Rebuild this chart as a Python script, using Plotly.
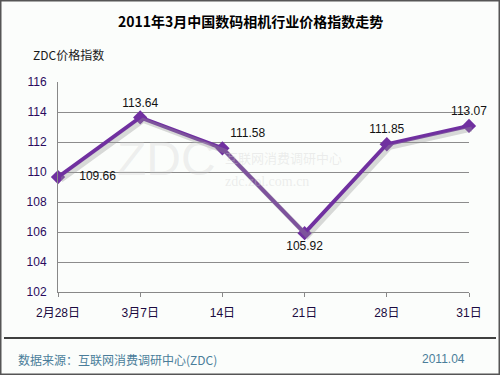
import plotly.graph_objects as go

categories = ["2月28日", "3月7日", "14日", "21日", "28日", "31日"]
values = [109.66, 113.64, 111.58, 105.92, 111.85, 113.07]
label_pos = ["middle right", "top center", "top right", "bottom center", "top center", "top center"]
label_text = ["    109.66", "113.64", "111.58", "105.92", "111.85", "113.07"]
y_ticks = [102, 104, 106, 108, 110, 112, 114, 116]

W, H = 500, 375
L, R, T, B = 58, 28, 82, 80
pw = W - L - R
ph = H - T - B
S = 3  # shadow offset px


def px(x):
    return (x - L) / pw


def py(y):
    return (H - y - B) / ph


fig = go.Figure()
# shadow
fig.add_trace(go.Scatter(
    x=list(range(len(values))), y=values, mode="lines",
    line=dict(color="rgba(150,150,150,0.35)", width=5),
    xaxis="x2", yaxis="y2", hoverinfo="skip", showlegend=False))
fig.add_trace(go.Scatter(
    x=list(range(len(values))), y=values, mode="lines+markers+text",
    line=dict(color="#7030a0", width=4),
    marker=dict(symbol="diamond", size=11, color="#7030a0"),
    text=label_text, textposition=label_pos,
    textfont=dict(family="Liberation Sans, Arial", size=12, color="#111111"),
    cliponaxis=False, showlegend=False))

fig.update_layout(
    width=W, height=H,
    margin=dict(l=L, r=R, t=T, b=B),
    paper_bgcolor="#fbfdfb", plot_bgcolor="rgba(0,0,0,0)",
    xaxis=dict(range=[0, 5], tickmode="array", tickvals=list(range(6)), ticktext=categories,
               showgrid=False, zeroline=False, showline=True, linecolor="#888888", linewidth=1,
               ticks="outside", ticklen=4, tickcolor="#888888", ticklabelstandoff=6,
               tickfont=dict(family="Liberation Sans, Noto Sans CJK SC", size=12, color="#1a0a40"),
               domain=[0, 1 - S / pw], anchor="y"),
    yaxis=dict(range=[102, 116], tickvals=y_ticks, showgrid=True, gridcolor="#8c8c8c", gridwidth=1,
               zeroline=False, showline=True, linecolor="#888888", linewidth=1,
               ticks="", ticklabelstandoff=8, domain=[S / ph, 1], anchor="x",
               tickfont=dict(family="Liberation Sans, Arial", size=12, color="#2a0a5e")),
    xaxis2=dict(range=[0, 5], domain=[S / pw, 1], visible=False, anchor="y2"),
    yaxis2=dict(range=[102, 116], domain=[0, 1 - S / ph], visible=False, anchor="x2"),
    showlegend=False,
)

# watermark
fig.add_annotation(x=px(218), y=py(158), xref="paper", yref="paper", xanchor="right", text="ZDC",
                   showarrow=False,
                   font=dict(family="Liberation Sans", size=48, color="rgba(205,205,205,0.3)"))
fig.add_annotation(x=px(223), y=py(157), xref="paper", yref="paper", xanchor="left", text="互联网消费调研中心",
                   showarrow=False,
                   font=dict(family="Noto Sans CJK SC", size=13, color="rgba(205,205,205,0.35)"))
fig.add_annotation(x=px(223), y=py(181), xref="paper", yref="paper", xanchor="left", text="zdc.zol.com.cn",
                   showarrow=False,
                   font=dict(family="Liberation Serif", size=14, color="rgba(205,205,205,0.35)"))

fig.add_annotation(x=px(250), y=py(21), xref="paper", yref="paper", yanchor="middle",
                   text="<b>2011年3月中国数码相机行业价格指数走势</b>",
                   showarrow=False, font=dict(family="Noto Sans CJK SC", size=14, color="#000000"))
fig.add_annotation(x=px(31), y=py(54), xref="paper", yref="paper", xanchor="left", yanchor="middle",
                   text="ZDC价格指数", showarrow=False,
                   font=dict(family="Noto Sans CJK SC", size=12, color="#1a1a1a"))
fig.add_annotation(x=px(16), y=py(359), xref="paper", yref="paper", xanchor="left", yanchor="middle",
                   text="数据来源：互联网消费调研中心(ZDC)", showarrow=False,
                   font=dict(family="Noto Sans CJK SC", size=12, color="#4a7d9a"))
fig.add_annotation(x=px(467), y=py(359), xref="paper", yref="paper", xanchor="right", yanchor="middle",
                   text="2011.04", showarrow=False,
                   font=dict(family="Liberation Sans", size=12, color="#4a7d9a"))

# separator and frame
fig.add_shape(type="line", xref="paper", yref="paper", x0=px(4), x1=px(496), y0=py(338), y1=py(338),
              line=dict(color="#000000", width=1.5))
fig.add_shape(type="rect", xref="paper", yref="paper", x0=px(0), x1=px(W), y0=py(H), y1=py(0),
              line=dict(color="#555555", width=3))

fig.write_html("out.html")
